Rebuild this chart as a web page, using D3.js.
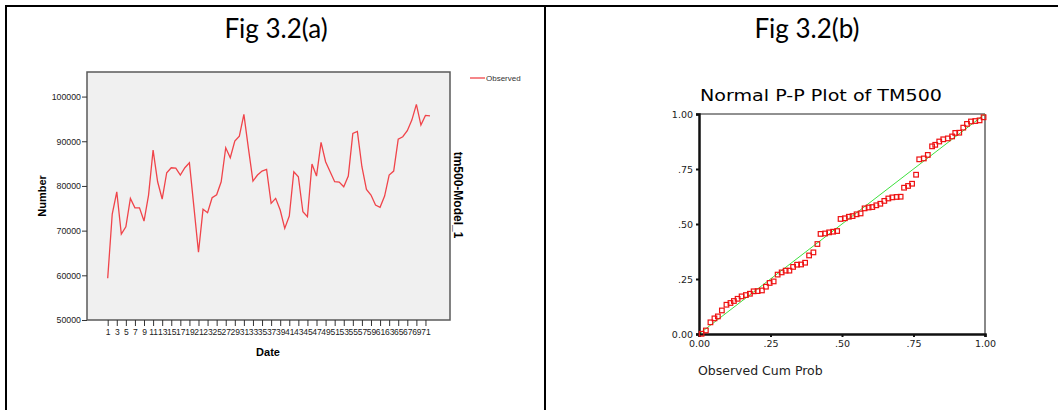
<!DOCTYPE html>
<html>
<head>
<meta charset="utf-8">
<script src="https://cdn.jsdelivr.net/npm/d3@7"></script>
<style>
  body { margin: 0; background: #fff; }
  svg { display: block; }
</style>
</head>
<body>
<div id="chart"></div>
<script>
// Fig 3.2(a) - sequence of TM500 observed values
const dateIndex = d3.range(1, 73);
const observed = [
  59330, 73710, 78700, 69240, 70870, 77220, 75120, 75100, 72150, 77960,
  88030, 80940, 77070, 82950, 84070, 84000, 82440, 84070, 85190, 75200,
  65150, 74770, 74000, 77360, 78030, 80940, 88550, 86310, 90040, 91160,
  96020, 88400, 81100, 82440, 83330, 83700, 76100, 77220, 74610, 70510,
  73270, 83180, 82060, 74230, 73110, 84900, 82210, 89750, 85420, 83180,
  80940, 80860, 79820, 82210, 91760, 92210, 84300, 79230, 77960, 75730,
  75210, 77740, 82440, 83330, 90490, 91010, 92350, 94740, 98250, 93620,
  95790, 95700
];
const yTicksA = [50000, 60000, 70000, 80000, 90000, 100000];
const xTicksA = dateIndex.filter(d => d % 2 === 1);

// Fig 3.2(b) - normal P-P plot
const observedCum = [
  0.009, 0.024, 0.040, 0.054, 0.066, 0.080, 0.096, 0.110, 0.122, 0.135,
  0.149, 0.164, 0.178, 0.191, 0.205, 0.220, 0.234, 0.247, 0.261, 0.275,
  0.289, 0.303, 0.316, 0.329, 0.343, 0.357, 0.371, 0.385, 0.400, 0.414,
  0.425, 0.441, 0.455, 0.469, 0.483, 0.495, 0.510, 0.524, 0.537, 0.551,
  0.565, 0.579, 0.593, 0.606, 0.620, 0.634, 0.648, 0.662, 0.676, 0.691,
  0.705, 0.717, 0.731, 0.745, 0.759, 0.770, 0.786, 0.800, 0.815, 0.826,
  0.840, 0.854, 0.870, 0.885, 0.896, 0.910, 0.924, 0.937, 0.951, 0.966,
  0.981, 0.995
];
const expectedCum = [
  0.001, 0.016, 0.053, 0.071, 0.080, 0.107, 0.133, 0.141, 0.150, 0.160,
  0.171, 0.177, 0.183, 0.194, 0.195, 0.198, 0.215, 0.232, 0.239, 0.270,
  0.280, 0.288, 0.288, 0.305, 0.315, 0.316, 0.324, 0.357, 0.371, 0.409,
  0.455, 0.457, 0.462, 0.465, 0.468, 0.523, 0.526, 0.533, 0.536, 0.544,
  0.548, 0.571, 0.575, 0.577, 0.585, 0.592, 0.605, 0.616, 0.621, 0.623,
  0.624, 0.665, 0.673, 0.683, 0.724, 0.794, 0.798, 0.814, 0.853, 0.860,
  0.875, 0.885, 0.889, 0.898, 0.914, 0.915, 0.938, 0.955, 0.966, 0.968,
  0.971, 0.985
];
const ppTicks = [0, 0.25, 0.5, 0.75, 1];
const ppTickLabels = ['0.00', '.25', '.50', '.75', '1.00'];

const W = 1058, H = 410;
const svg = d3.select('#chart').append('svg')
  .attr('width', W)
  .attr('height', H);

// table borders
const border = svg.append('g').attr('stroke', '#000').attr('stroke-width', 2);
border.append('line').attr('x1', 6).attr('x2', W).attr('y1', 6).attr('y2', 6);
border.append('line').attr('x1', 6).attr('x2', 6).attr('y1', 5).attr('y2', H);
border.append('line').attr('x1', 545).attr('x2', 545).attr('y1', 5).attr('y2', H);

// figure captions
svg.append('text')
  .attr('x', 276).attr('y', 38)
  .attr('text-anchor', 'middle')
  .style('font-family', 'Lato, "Open Sans", sans-serif')
  .style('font-size', '26px')
  .text('Fig 3.2(a)');

svg.append('text')
  .attr('x', 807).attr('y', 38)
  .attr('text-anchor', 'middle')
  .style('font-family', 'Lato, "Open Sans", sans-serif')
  .style('font-size', '26px')
  .text('Fig 3.2(b)');

// ---------- left: sequence chart ----------
const a = { left: 87, right: 450, top: 72, bottom: 320 };
const xA = d3.scaleLinear().domain([1, 72]).range([107.7, 430]);
const yA = d3.scaleLinear().domain([50000, 105500]).range([a.bottom, a.top]);

const gA = svg.append('g');
gA.append('rect')
  .attr('x', a.left).attr('y', a.top)
  .attr('width', a.right - a.left).attr('height', a.bottom - a.top)
  .attr('fill', '#f0f0f0')
  .attr('stroke', '#5a5a5a')
  .attr('stroke-width', 1.5);

const yAxisA = gA.append('g')
  .attr('transform', `translate(${a.left},0)`)
  .call(d3.axisLeft(yA).tickValues(yTicksA).tickSize(5).tickPadding(1).tickFormat(d3.format('d')));
yAxisA.select('.domain').remove();
yAxisA.selectAll('text')
  .style('font-family', '"Liberation Sans", Arial, sans-serif')
  .style('font-size', '8.8px')
  .attr('fill', '#222');
yAxisA.selectAll('line').attr('stroke', '#333');

const xAxisA = gA.append('g')
  .attr('transform', `translate(0,${a.bottom})`)
  .call(d3.axisBottom(xA).tickValues(xTicksA).tickSize(6).tickPadding(3).tickFormat(d3.format('d')));
xAxisA.select('.domain').remove();
xAxisA.selectAll('text')
  .style('font-family', '"Liberation Sans", Arial, sans-serif')
  .style('font-size', '8.5px')
  .attr('fill', '#222');
xAxisA.selectAll('line').attr('stroke', '#333');

const lineA = d3.line()
  .x((d, i) => xA(dateIndex[i]))
  .y(d => yA(d));

gA.append('path')
  .datum(observed)
  .attr('fill', 'none')
  .attr('stroke', '#f0444a')
  .attr('stroke-width', 1.3)
  .attr('d', lineA);

gA.append('text')
  .attr('x', 268).attr('y', 356)
  .attr('text-anchor', 'middle')
  .style('font-family', '"Liberation Sans", Arial, sans-serif')
  .style('font-size', '11px')
  .style('font-weight', 'bold')
  .text('Date');

gA.append('text')
  .attr('transform', 'translate(46,196) rotate(-90)')
  .attr('text-anchor', 'middle')
  .style('font-family', '"Liberation Sans", Arial, sans-serif')
  .style('font-size', '11px')
  .style('font-weight', 'bold')
  .text('Number');

gA.append('text')
  .attr('transform', 'translate(454,195) rotate(90)')
  .attr('text-anchor', 'middle')
  .style('font-family', '"Liberation Sans", Arial, sans-serif')
  .style('font-size', '12px')
  .style('font-weight', 'bold')
  .text('tm500-Model_1');

// legend
gA.append('line')
  .attr('x1', 470).attr('x2', 485)
  .attr('y1', 78).attr('y2', 78)
  .attr('stroke', '#f0444a').attr('stroke-width', 1.3);
gA.append('text')
  .attr('x', 486).attr('y', 81)
  .style('font-family', '"Liberation Sans", Arial, sans-serif')
  .style('font-size', '8px')
  .attr('fill', '#333')
  .text('Observed');

// ---------- right: P-P plot ----------
const b = { left: 699, right: 985, top: 114, bottom: 334 };
const xB = d3.scaleLinear().domain([0, 1]).range([b.left, b.right]);
const yB = d3.scaleLinear().domain([0, 1]).range([b.bottom, b.top]);
const gB = svg.append('g');

gB.append('text')
  .attr('x', 821).attr('y', 101)
  .attr('text-anchor', 'middle')
  .attr('textLength', 242)
  .attr('lengthAdjust', 'spacingAndGlyphs')
  .style('font-family', '"DejaVu Sans", sans-serif')
  .style('font-size', '15px')
  .text('Normal P-P Plot of TM500');

// frame: top thin, right grey
gB.append('line')
  .attr('x1', b.left).attr('x2', b.right)
  .attr('y1', b.top).attr('y2', b.top)
  .attr('stroke', '#222').attr('stroke-width', 1);
gB.append('line')
  .attr('x1', b.right).attr('x2', b.right)
  .attr('y1', b.top).attr('y2', b.bottom)
  .attr('stroke', '#888').attr('stroke-width', 2);

// reference diagonal
gB.append('line')
  .attr('x1', xB(0)).attr('y1', yB(0))
  .attr('x2', xB(1)).attr('y2', yB(1))
  .attr('stroke', '#3ee03e').attr('stroke-width', 1);

const yAxisB = gB.append('g')
  .attr('transform', `translate(${b.left},0)`)
  .call(d3.axisLeft(yB).tickValues(ppTicks).tickSize(3).tickPadding(3)
    .tickFormat((d, i) => ppTickLabels[i]));
yAxisB.select('.domain').attr('stroke', '#111').attr('stroke-width', 2.5);
yAxisB.selectAll('line').attr('stroke', '#111').attr('stroke-width', 2);

const xAxisB = gB.append('g')
  .attr('transform', `translate(0,${b.bottom})`)
  .call(d3.axisBottom(xB).tickValues(ppTicks).tickSize(3).tickPadding(3)
    .tickFormat((d, i) => ppTickLabels[i]));
xAxisB.select('.domain').attr('stroke', '#111').attr('stroke-width', 2.5);
xAxisB.selectAll('line').attr('stroke', '#111').attr('stroke-width', 2);

[yAxisB, xAxisB].forEach(ax => ax.selectAll('text')
  .style('font-family', '"DejaVu Sans", sans-serif')
  .style('font-size', '9.5px')
  .attr('fill', '#222'));

const sq = 4.6;
gB.selectAll('.pt')
  .data(observedCum)
  .enter().append('rect')
  .attr('class', 'pt')
  .attr('x', d => xB(d) - sq / 2)
  .attr('y', (d, i) => yB(expectedCum[i]) - sq / 2)
  .attr('width', sq).attr('height', sq)
  .attr('fill', 'none')
  .attr('stroke', '#ee1111')
  .attr('stroke-width', 1.2);

gB.append('text')
  .attr('x', 698).attr('y', 375)
  .style('font-family', '"DejaVu Sans", sans-serif')
  .style('font-size', '12.5px')
  .attr('fill', '#222')
  .text('Observed Cum Prob');
</script>
</body>
</html>
